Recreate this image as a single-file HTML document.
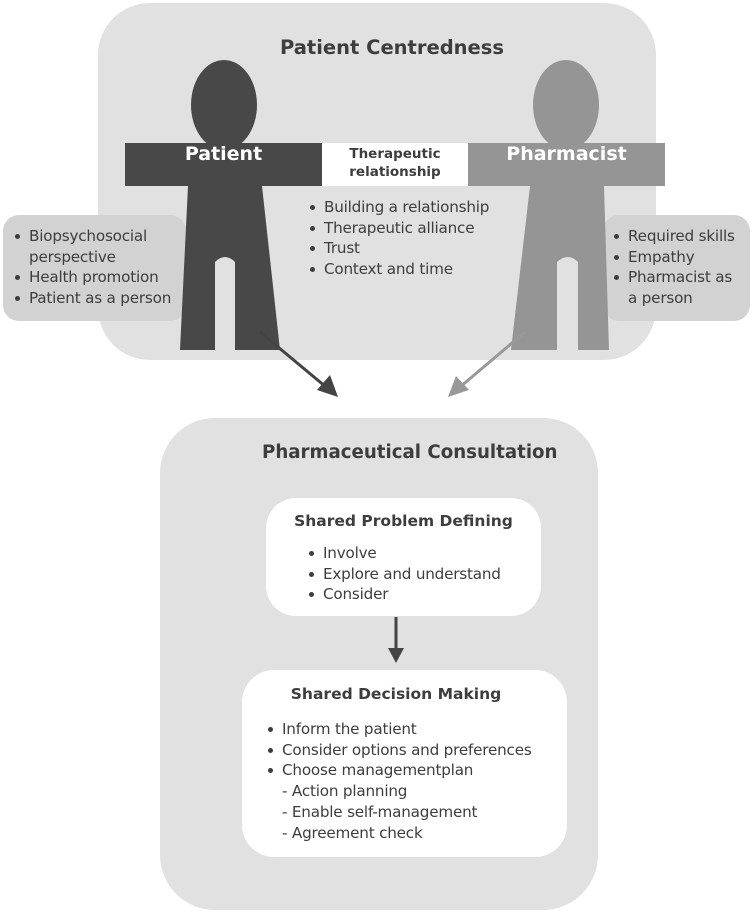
<!DOCTYPE html>
<html><head><meta charset="utf-8"><style>
html,body{margin:0;padding:0;background:#fff;}
body{width:754px;height:915px;position:relative;overflow:hidden;font-family:"DejaVu Sans","Liberation Sans",sans-serif;color:#3d3d3d;}
.a{position:absolute;}
.t{position:absolute;white-space:nowrap;}
ul{margin:0;padding:0;list-style:none;}
li{position:relative;padding-left:16px;}
li:before{content:"";position:absolute;left:2px;top:8px;width:5px;height:5px;border-radius:50%;background:#3d3d3d;}
.b{font-size:15.2px;line-height:20.7px;letter-spacing:-0.2px;}
</style></head><body>
<div class="a" style="left:98px;top:3px;width:558px;height:357px;background:#e1e1e1;border-radius:52px;"></div>
<div class="a" style="left:160px;top:418px;width:438px;height:492px;background:#e1e1e1;border-radius:55px;"></div>
<div class="a" style="left:3px;top:215px;width:183px;height:106px;background:#d2d2d2;border-radius:16px;"></div>
<div class="a" style="left:603px;top:215px;width:147px;height:106px;background:#d2d2d2;border-radius:16px;"></div>
<svg class="a" style="left:0;top:0" width="754" height="915">
 <rect x="322" y="143" width="146" height="43" fill="#fff"/>
 <ellipse cx="224" cy="105" rx="33" ry="45" fill="#484848"/>
 <rect x="125" y="143" width="197" height="43" fill="#484848"/>
 <path d="M188 186 L262 186 L280 350 L235 350 L235 262 Q225 252 215 262 L215 350 L180 350 Z" fill="#484848"/>
 <ellipse cx="566" cy="105" rx="33" ry="45" fill="#959595"/>
 <rect x="468" y="143" width="197" height="43" fill="#959595"/>
 <path d="M530 186 L604 186 L609 350 L578 350 L578 262 Q568 252 557 262 L557 350 L511 350 Z" fill="#959595"/>
 <line x1="260" y1="332" x2="326" y2="387" stroke="#444" stroke-width="3"/>
 <polygon points="338,397 317,390 330,375" fill="#444"/>
 <line x1="525" y1="332" x2="460" y2="387" stroke="#999" stroke-width="3"/>
 <polygon points="448,397 456,376 469,390" fill="#999"/>
 <line x1="396" y1="617" x2="396" y2="650" stroke="#444" stroke-width="3"/>
 <polygon points="388,648 404,648 396,663" fill="#444"/>
</svg>
<div class="a" style="left:266px;top:498px;width:275px;height:118px;background:#fff;border-radius:30px;"></div>
<div class="a" style="left:242px;top:670px;width:325px;height:187px;background:#fff;border-radius:32px;"></div>

<div class="t" style="left:0;width:784px;text-align:center;top:36px;font-size:19.5px;font-weight:bold;">Patient Centredness</div>
<div class="t" style="left:125px;width:197px;text-align:center;top:141px;font-size:19px;font-weight:bold;color:#fff;line-height:26px;">Patient</div>
<div class="t" style="left:468px;width:197px;text-align:center;top:141px;font-size:19px;font-weight:bold;color:#fff;line-height:26px;">Pharmacist</div>
<div class="t" style="left:322px;width:146px;text-align:center;top:145px;font-size:13.5px;font-weight:bold;line-height:18px;">Therapeutic<br>relationship</div>
<ul class="t b" style="left:308px;top:197px;"><li>Building a relationship</li><li>Therapeutic alliance</li><li>Trust</li><li>Context and time</li></ul>
<ul class="t b" style="left:13px;top:226px;"><li>Biopsychosocial<br>perspective</li><li>Health promotion</li><li>Patient as a person</li></ul>
<ul class="t b" style="left:612px;top:226px;"><li>Required skills</li><li>Empathy</li><li>Pharmacist as<br>a person</li></ul>

<div class="t" style="left:262px;top:442px;font-size:18.2px;font-weight:bold;">Pharmaceutical Consultation</div>
<div class="t" style="left:266px;width:275px;text-align:center;top:512px;font-size:15.5px;font-weight:bold;">Shared Problem Defining</div>
<ul class="t b" style="left:307px;top:543px;"><li>Involve</li><li>Explore and understand</li><li>Consider</li></ul>
<div class="t" style="left:236px;width:320px;text-align:center;top:685px;font-size:15.5px;font-weight:bold;">Shared Decision Making</div>
<ul class="t b" style="left:266px;top:719px;"><li>Inform the patient</li><li>Consider options and preferences</li><li>Choose managementplan<br>- Action planning<br>- Enable self-management<br>- Agreement check</li></ul>
</body></html>
